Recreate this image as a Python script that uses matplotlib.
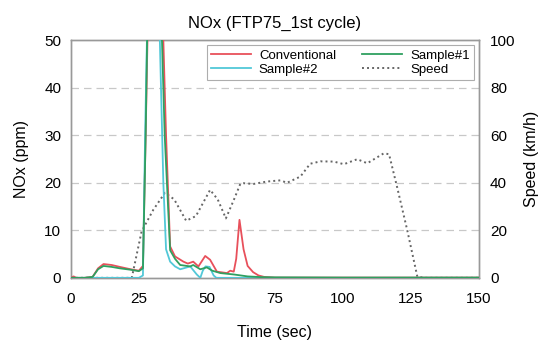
import matplotlib
matplotlib.use("Agg")
import matplotlib.pyplot as plt

plt.rcParams['font.family'] = ['Liberation Sans', 'DejaVu Sans']

# NOx data (ppm)
t_conv = [0, 1, 2, 5, 8, 10, 12, 15, 18, 22, 25, 26.5, 27.5, 28.5, 31, 33.5, 35, 36.5, 38.3, 41.4, 43, 45, 46.9, 49.4, 51.2, 53.7, 57.4, 58.6, 59.9, 60.8, 62, 63.5, 65, 67, 69, 71, 75, 100, 125, 150]
nox_conv = [0, 0.3, 0, 0, 0.2, 2.0, 2.9, 2.7, 2.3, 1.8, 1.5, 2.5, 30, 60, 70, 60, 30, 6.6, 4.5, 3.4, 3.0, 3.4, 2.4, 4.6, 3.8, 1.3, 1.0, 1.5, 1.3, 4.0, 12.2, 6.0, 2.5, 1.2, 0.5, 0.2, 0.05, 0.05, 0.05, 0.05]

t_s1 = [0, 2, 5, 8, 10, 12, 15, 18, 22, 25, 26.5, 27.5, 28.3, 31, 33, 34.5, 36.5, 38.3, 40.2, 43.9, 45, 47.6, 50, 52, 55, 60, 65, 70, 75, 100, 125, 150]
nox_s1 = [0, 0, 0, 0.2, 1.8, 2.5, 2.3, 2.0, 1.7, 1.4, 2.0, 30, 60, 70, 60, 30, 5.8, 4.0, 2.7, 2.4, 2.7, 1.8, 2.2, 1.5, 1.0, 0.7, 0.3, 0.15, 0.1, 0.05, 0.05, 0.05]

t_s2 = [0, 2, 5, 10, 15, 20, 25, 26.5, 27.3, 28.3, 31, 32.5, 34, 35, 36.5, 38.3, 40.2, 43.9, 46.3, 47.6, 48.5, 49.5, 51, 52.5, 53.5, 60, 75, 100, 125, 150]
nox_s2 = [0, 0, 0, 0, 0, 0, 0, 0.5, 30, 60, 70, 55, 20, 6, 3.4, 2.4, 1.8, 2.4, 0.7, 0, 1.5, 2.4, 2.3, 0.5, 0, 0, 0, 0, 0, 0]

# Speed (km/h)
t_speed = [0, 10, 22.4, 26, 30.3, 34.6, 38, 42.4, 46, 51.2, 54, 57, 60, 62.3, 63.5, 67.2, 72, 77, 79.5, 84.4, 88, 91.8, 96.7, 100.4, 105.3, 109, 115.1, 117, 120, 123.7, 127.4, 130, 150]
speed = [0, 0, 0, 19.5, 28.6, 35.8, 33, 24, 26, 37, 33, 25, 33, 39.5, 39.8, 39.5, 40.5, 41, 40, 42.6, 48, 49, 48.9, 47.8, 49.9, 48.2, 52.4, 52, 38, 20, 0.5, 0, 0]

x_ticks = [0, 25, 50, 75, 100, 125, 150]
nox_ticks = [0, 10, 20, 30, 40, 50]
speed_ticks = [0, 20, 40, 60, 80, 100]

fig = plt.figure(figsize=(5.41, 3.43), dpi=100)
ax = fig.add_axes([0.131, 0.19, 0.754, 0.693])
ax2 = ax.twinx()

c_conv = '#e8505b'
c_s1 = '#2fa060'
c_s2 = '#52c8d8'
c_speed = '#666666'

l1, = ax.plot(t_conv, nox_conv, color=c_conv, lw=1.3, label='Conventional', zorder=3)
l3, = ax.plot(t_s2, nox_s2, color=c_s2, lw=1.3, label='Sample#2', zorder=4)
l2, = ax.plot(t_s1, nox_s1, color=c_s1, lw=1.3, label='Sample#1', zorder=5)
l4, = ax2.plot(t_speed, speed, color=c_speed, lw=1.4, ls=(0, (1, 1.6)), label='Speed')

ax.set_xlim(0, 150)
ax.set_ylim(0, 50)
ax2.set_ylim(0, 100)
ax.set_xticks(x_ticks)
ax.set_yticks(nox_ticks)
ax2.set_yticks(speed_ticks)

for y in speed_ticks[1:-1]:
    ax2.axhline(y, color='#c8c8c8', lw=0.9, ls=(0, (6, 4)), zorder=0)

for a in (ax, ax2):
    a.tick_params(length=0, labelsize=11, pad=4)
    for s in a.spines.values():
        s.set_color('#999999')
        s.set_linewidth(1.0)
ax.tick_params(axis='x', pad=10)
ax.tick_params(axis='y', pad=7)
ax2.tick_params(axis='y', pad=8)

ax.set_title('NOx (FTP75_1st cycle)', fontsize=12, pad=9)
ax.set_xlabel('Time (sec)', fontsize=11.5, labelpad=14)
ax.set_ylabel('NOx (ppm)', fontsize=11.5, labelpad=11)
ax2.set_ylabel('Speed (km/h)', fontsize=11.5, labelpad=6)

ax.set_zorder(ax2.get_zorder() + 1)
ax.patch.set_visible(False)

leg = ax.legend([l1, l3, l2, l4], ['Conventional', 'Sample#2', 'Sample#1', 'Speed'],
                ncol=2, loc='upper right', fontsize=9.5, frameon=True, fancybox=False,
                borderaxespad=0.35, handlelength=3.0, columnspacing=2.0,
                labelspacing=0.15, borderpad=0.35, handletextpad=0.6)
leg.get_frame().set_edgecolor('#999999')
leg.get_frame().set_linewidth(0.8)

fig.savefig('out.png', dpi=100)
